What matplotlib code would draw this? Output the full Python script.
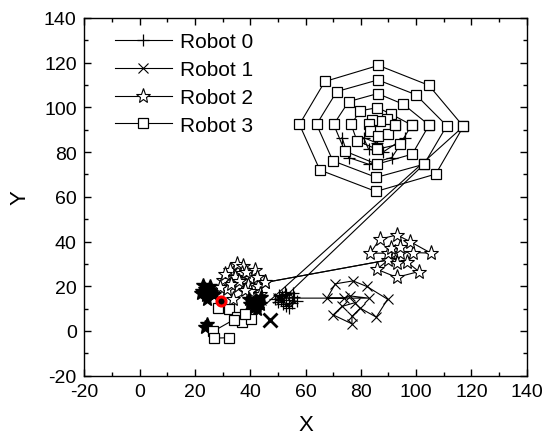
import numpy as np
import matplotlib.pyplot as plt
from matplotlib.ticker import MultipleLocator

plt.rcParams['font.family'] = ['Liberation Sans', 'DejaVu Sans']
plt.rcParams['axes.unicode_minus'] = False

nan = np.nan

# Robot 0 (plus markers): start cluster, then a few points inside the octagon
r0_x = [50, 51.5, 52, 53, 54, 55, 56, 52.5, 50.5, 54, 57, 53, 51, 55.5, 49,
        nan, 73.2, 75.6, 82.8, 91.2, 96, 88, 82.8, 81, 86]
r0_y = [13, 15.5, 12, 16.5, 14, 12.5, 15, 17.5, 16, 10.5, 13.5, 11, 14, 17, 14.5,
        nan, 86.5, 77.6, 74.6, 77.6, 86.5, 80, 81.3, 86.5, 84]

# Robot 1 (x markers): walk to the right-hand cluster
r1_x = [50, 82.8, 76, 73.8, 67.8, 70.8, 77.2, 82.2, 89.7, 85.6, 79.8, 76.8, 76.8, 70, 73.2, 78,
        nan, 40, 41.5, 43, 42, 40.5, 44]
r1_y = [14.7, 14.7, 15.7, 14.7, 14.7, 21.1, 22.4, 19.9, 14.2, 6.2, 10.2, 6.5, 3.2, 7.2, 11, 12.7,
        nan, 12, 13.5, 12.5, 11, 14, 13.8]
r1_big_x = [47.2]
r1_big_y = [4.9]

# Robot 2 (star markers): cloud near start, then the cluster on the right
r2_x = [26.7, 30.3, 32.7, 35.1, 37.5, 41.8, 36.9, 34.5, 40, 45.4, 43, 39.3, 35.7, 31.5, 33.9,
        40, 43.6, 38, 36, 33, 29, 31, 38.5, 42.5, 45.4,
        90, 85.8, 93, 101, 96.6, 99, 105.4, 97.8, 93, 86.8, 83.4, 89.7, 92.4, 94.2, 93, 91, 94]
r2_y = [16.4, 22.9, 27.2, 30.1, 28.9, 27.2, 25.8, 24.3, 23.6, 21.7, 20, 20.7, 20, 18.6, 14.2,
        17.8, 16.4, 18.5, 22.5, 21, 19.5, 25.5, 26.5, 24, 21.7,
        31.8, 27.6, 24, 26.6, 31, 35.1, 34.8, 40, 43, 41, 34.8, 34.8, 35.5, 34.8, 30.6, 37, 37.5]

# Dense blobs of overlapping stars near the start
blob_x = [22.2, 23.5, 25, 24, 26, 23, 25.5, 27, 24.5, 22.5, 40, 42, 43.5, 41, 44, 39.5, 42.5, 23.6, 24.5]
blob_y = [17, 19, 18.5, 16, 17.5, 20.5, 20, 16.5, 14.5, 18, 12, 14, 12, 10.5, 15, 14.5, 10, 2, 3.2]

# Robot 3 (square markers): octagonal rings around (87, 92) plus squares near start
r3_x = [117.1, 104.6, 86.4, 67.0, 57.8, 65.2, 85.5, 107.1, 117.1, nan,
        102.9, 111.1, 99.9, 86.2, 71.3, 64.0, 69.9, 85.6, 102.9, nan,
        104.7, 95.4, 86.1, 75.6, 70.2, 74.2, 85.8, 98.6, 104.7, nan,
        98.4, 91.0, 86.0, 79.8, 76.5, 78.6, 85.8, 94.2, 98.4, nan,
        92.2, 89.5, 87.0, 84.0, 82.8, 83.2, 86.1, 89.7, 92.2, nan,
        28.5, 32.3, 35.4, 36.9, 40.2, 38.3, 34.0, 26.7, 27.0, 32.3]
r3_y = [91.5, 109.9, 118.8, 111.6, 92.4, 72.0, 62.4, 70.2, 91.5, nan,
        74.6, 91.8, 105.7, 112.3, 107.1, 92.4, 76.1, 68.7, 74.6, nan,
        92.1, 101.4, 106.2, 102.6, 92.4, 80.5, 74.6, 79.1, 92.1, nan,
        92.1, 97.0, 99.9, 98.5, 92.4, 85.1, 81.3, 83.6, 92.1, nan,
        92.1, 95.0, 94.0, 94.5, 92.5, 89.5, 87.0, 88.0, 92.1, nan,
        10.2, 9.9, 6.3, 4.2, 5.3, 7.5, 5.0, -0.1, -3.2, -3.0]

# Long transit lines between the start area and the octagon / star cluster
trans_x = [46.0, 117.1, nan, 49.6, 102.9, nan, 45.4, 90]
trans_y = [12.4, 91.5, nan, 11.7, 74.6, nan, 21.7, 31.8]

red_x = [29.6]
red_y = [13.6]

W, H = 544, 439
fig = plt.figure(figsize=(W/100, H/100), dpi=100)
ax = fig.add_axes([84.3/W, 1-376.7/H, (526.7-84.3)/W, (376.7-19)/H])

lw = 0.8
ax.plot(trans_x, trans_y, color='black', lw=lw)
ax.plot(r0_x, r0_y, color='black', lw=lw, marker='+', ms=8, mew=0.9, label='Robot 0')
ax.plot(r1_x, r1_y, color='black', lw=lw, marker='x', ms=7, mew=0.8, label='Robot 1')
ax.plot(r1_big_x, r1_big_y, ls='none', color='black', marker='x', ms=10, mew=2)
ax.plot(r2_x, r2_y, color='black', lw=lw, marker='*', ms=11, mew=0.8,
        mfc='white', label='Robot 2')
ax.plot(blob_x, blob_y, ls='none', marker='*', ms=10, mfc='black', mec='black')
ax.plot(r3_x, r3_y, color='black', lw=lw, marker='s', ms=7.5, mew=0.9,
        mfc='white', label='Robot 3')
ax.plot(red_x, red_y, ls='none', marker='o', ms=6.5, mfc='black', mec='red', mew=2.2)

ax.set_xlim(-20, 140)
ax.set_ylim(-20, 140)
ax.xaxis.set_major_locator(MultipleLocator(20))
ax.xaxis.set_minor_locator(MultipleLocator(10))
ax.yaxis.set_major_locator(MultipleLocator(20))
ax.yaxis.set_minor_locator(MultipleLocator(10))
ax.tick_params(which='both', direction='in', top=True, right=True, labelsize=14,
               width=1, pad=5.5)
ax.tick_params(which='major', length=5)
ax.tick_params(which='minor', length=3)
for s in ax.spines.values():
    s.set_linewidth(1)

ax.set_xlabel('X', fontsize=16, labelpad=10)
ax.set_ylabel('Y', fontsize=16, labelpad=10)

ax.legend(loc='upper left', bbox_to_anchor=(0.05, 0.983), borderaxespad=0,
          frameon=False, fontsize=15, handlelength=2.75, labelspacing=0.42,
          handletextpad=0.4, borderpad=0.4)

fig.savefig('out.png', dpi=100)
